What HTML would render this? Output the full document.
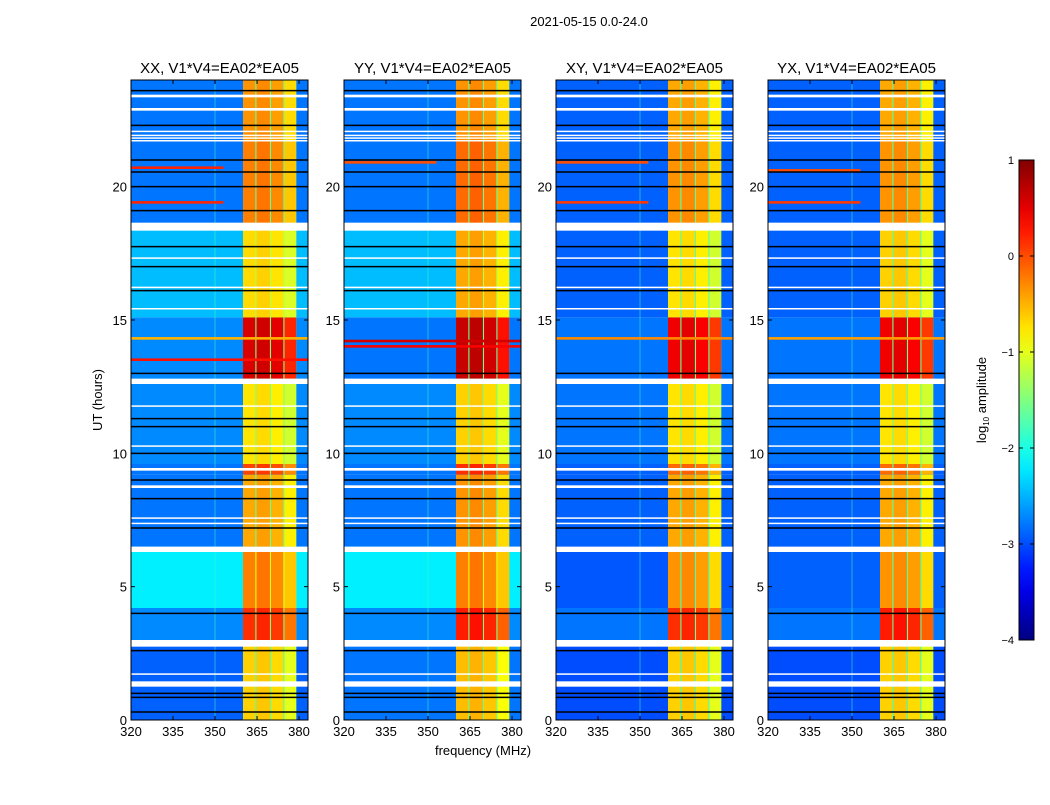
<!DOCTYPE html>
<html><head><meta charset="utf-8"><style>
body{margin:0;background:#fff;font-family:"Liberation Sans",sans-serif;}
svg text{font-family:"Liberation Sans",sans-serif;fill:#000;}
</style></head><body>
<svg id="fig" width="1050" height="800" viewBox="0 0 1050 800" xmlns="http://www.w3.org/2000/svg">
<rect width="1050" height="800" fill="#fff"/>
<text x="589" y="26" font-size="13" text-anchor="middle">2021-05-15 0.0-24.0</text>
<text x="483" y="755" font-size="13" text-anchor="middle">frequency (MHz)</text>
<text transform="translate(102,400) rotate(-90)" font-size="13" text-anchor="middle">UT (hours)</text>
<text transform="translate(986,400) rotate(-90)" font-size="13" text-anchor="middle">log<tspan font-size="8" dy="3">10</tspan><tspan dy="-3"> amplitude</tspan></text>
<g id="panels"></g>
<g id="cbar"></g>
</svg>
<script>
// ---- data ----
const panelTitles = ["XX, V1*V4=EA02*EA05","YY, V1*V4=EA02*EA05","XY, V1*V4=EA02*EA05","YX, V1*V4=EA02*EA05"];
const segStarts = [0, 2.8, 4.2, 6.5, 9.2, 9.6, 12.8, 15.1, 18.5, 21.7];
const bgXX = [-2.9,-2.7,-2.2,-2.8,-2.8,-2.7,-2.7,-2.45,-2.8,-2.8];
const bgYY = [-2.8,-2.7,-2.2,-2.8,-2.8,-2.7,-2.8,-2.45,-2.8,-2.8];
const bgXY = [-3.0,-2.8,-2.95,-2.9,-2.9,-2.8,-2.8,-2.9,-2.9,-2.9];
const bgYX = [-3.0,-2.8,-2.9,-2.9,-2.9,-2.8,-2.8,-2.9,-2.9,-2.9];
const bandXX = [-0.7, 0.1, -0.3, -0.5, 0.0, -0.8, 0.5, -0.75, -0.3, -0.4];
const bandYY = [-0.6, 0.2, -0.3, -0.4, 0.1, -0.7, 0.6, -0.5, -0.2, -0.4];
const bandXY = [-0.7, 0.1, -0.4, -0.5, -0.2, -0.8, 0.4, -0.8, -0.4, -0.5];
const bandYX = [-0.7, 0.2, -0.4, -0.5, -0.2, -0.8, 0.4, -0.7, -0.4, -0.5];
const subStart = [360, 364.8, 370, 374.8];
const subEnd = [364.4, 369.6, 374.4, 379.0];
const subOffset = [0.05, 0.1, 0.0, -0.3];
const flagStart = [23.35,22.85,21.7,21.8,21.9,22.05,18.35,17.3,16.2,15.4,12.6,11.75,10.25,9.35,8.7,7.55,7.35,6.3,2.75,1.7,1.25];
const flagEnd   = [23.45,22.95,21.75,21.85,21.95,22.1,18.65,17.35,16.25,15.45,12.8,11.8,10.3,9.45,8.8,7.6,7.4,6.5,3.0,1.75,1.45];
const blackLines = [23.6,22.3,21.0,20.55,20.0,19.1,17.75,17.0,16.1,13.0,11.3,11.0,10.0,9.0,8.3,7.2,4.0,2.6,1.0,0.85,0.3];
const hotHoursXX = [20.7,19.4,14.3,13.5], hotLevelXX = [0.2,0.2,-0.5,0.3], hotFmaxXX = [353,353,383.2,383.2];
const hotHoursYY = [20.9,14.2,14.0], hotLevelYY = [0.0,0.6,0.4], hotFmaxYY = [353,383.2,383.2];
const hotHoursXY = [20.9,19.4,14.3], hotLevelXY = [0.0,0.1,-0.3], hotFmaxXY = [353,353,383.2];
const hotHoursYX = [20.6,19.4,14.3], hotLevelYX = [0.0,0.1,-0.4], hotFmaxYX = [353,353,383.2];
const xTicks = [320,335,350,365,380];
const yTicks = [0,5,10,15,20];
const cbTicks = [1,0,-1,-2,-3,-4];

const bgs=[bgXX,bgYY,bgXY,bgYX], bands=[bandXX,bandYY,bandXY,bandYX];
const hots=[[hotHoursXX,hotLevelXX,hotFmaxXX],[hotHoursYY,hotLevelYY,hotFmaxYY],[hotHoursXY,hotLevelXY,hotFmaxXY],[hotHoursYX,hotLevelYX,hotFmaxYX]];
const NS="http://www.w3.org/2000/svg";
function jet(v){const t=Math.max(0,Math.min(1,(v+4)/5));const c=x=>Math.round(255*Math.max(0,Math.min(1,1.5-Math.abs(4*t-x))));return `rgb(${c(3)},${c(2)},${c(1)})`;}
function mk(tag,attrs,parent){const e=document.createElementNS(NS,tag);for(const k in attrs)e.setAttribute(k,attrs[k]);parent.appendChild(e);return e;}
const lefts=[131,344,556,768], W=177, pTop=80, pBot=720, fMin=320, fMax=383.2;
const panelsG=document.getElementById('panels');
lefts.forEach((L,p)=>{
  const g=mk('g',{},panelsG);
  
  
  const X=f=>L+(f-fMin)/(fMax-fMin)*W, Y=h=>pBot-h/24*(pBot-pTop);
  const cp=mk('clipPath',{id:'cp'+p},g); mk('rect',{x:L,y:pTop,width:W,height:pBot-pTop},cp);
  const m=mk('g',{'clip-path':`url(#cp${p})`},g);
  segStarts.forEach((s,i)=>{
    const e=i+1<segStarts.length?segStarts[i+1]:24;
    const bg=bgs[p][i], bd=bands[p][i];
    const r=mk('rect',{x:L,y:Y(e),width:W,height:Y(s)-Y(e),fill:jet(bg)},m);
    
    
    const r2=mk('rect',{x:X(subStart[0]),y:Y(e),width:X(subEnd[3])-X(subStart[0]),height:Y(s)-Y(e),fill:jet(bg+1.2)},m);
    
    
    subStart.forEach((f0,k)=>{
      const c=mk('rect',{x:X(f0),y:Y(e),width:X(subEnd[k])-X(f0),height:Y(s)-Y(e),fill:jet(bd+subOffset[k])},m);
      
      
    });
  });
  mk('line',{x1:X(350),x2:X(350),y1:pTop,y2:pBot,stroke:jet(-1.8),'stroke-width':1,opacity:0.5},m);
  const [hh,hl,hf]=hots[p];
  hh.forEach((h,i)=>{
    const r=mk('rect',{x:L,y:Y(h+0.06),width:X(hf[i])-L,height:Y(h)-Y(h+0.06)+1,fill:jet(hl[i])},m);
    
    
  });
  flagStart.forEach((s,i)=>{
    const r=mk('rect',{x:L,y:Y(flagEnd[i]),width:W,height:Math.max(1.5,Y(s)-Y(flagEnd[i])),fill:'#fff'},m);
    
    
  });
  blackLines.forEach(h=>{
    const l=mk('line',{x1:L,x2:L+W,y1:Y(h),y2:Y(h),stroke:'#000','stroke-width':1.5},m);
    
    
  });
  const fr=mk('rect',{x:L,y:pTop,width:W,height:pBot-pTop,fill:'none',stroke:'#000','stroke-width':1},g);
  
  
  const t=mk('text',{x:L+W/2,y:pTop-7,'font-size':15,'text-anchor':'middle'},g); t.textContent=panelTitles[p];
  
  
  xTicks.forEach(f=>{
    mk('line',{x1:X(f),x2:X(f),y1:pBot,y2:pBot-4,stroke:'#000'},g);
    mk('line',{x1:X(f),x2:X(f),y1:pTop,y2:pTop+4,stroke:'#000'},g);
    const tx=mk('text',{x:X(f),y:pBot+16,'font-size':13,'text-anchor':'middle'},g); tx.textContent=f;
    
    
  });
  yTicks.forEach(h=>{
    mk('line',{x1:L,x2:L+4,y1:Y(h),y2:Y(h),stroke:'#000'},g);
    mk('line',{x1:L+W,x2:L+W-4,y1:Y(h),y2:Y(h),stroke:'#000'},g);
    const ty=mk('text',{x:L-4,y:Y(h)+5,'font-size':13,'text-anchor':'end'},g); ty.textContent=h;
    
    
  });
});
// colorbar
const cb=document.getElementById('cbar');
const defs=mk('defs',{},cb);
const lg=mk('linearGradient',{id:'jetg',x1:0,y1:1,x2:0,y2:0},defs);
for(let i=0;i<=20;i++){mk('stop',{offset:i/20,'stop-color':jet(-4+5*i/20)},lg);}
const cbTop=160, cbBot=640, cbL=1019, cbW=15;
mk('rect',{x:cbL,y:cbTop,width:cbW,height:cbBot-cbTop,fill:'url(#jetg)',stroke:'#000','stroke-width':1},cb);
cbTicks.forEach(v=>{
  const y=cbBot-(v+4)/5*(cbBot-cbTop);
  mk('line',{x1:cbL,x2:cbL+4,y1:y,y2:y,stroke:'#000'},cb);
  mk('line',{x1:cbL+cbW,x2:cbL+cbW-4,y1:y,y2:y,stroke:'#000'},cb);
  const t=mk('text',{x:cbL-5,y:y+4,'font-size':11,'text-anchor':'end'},cb); t.textContent=v<0?'\u2212'+(-v):v;
  
  
});
</script>
</body></html>
